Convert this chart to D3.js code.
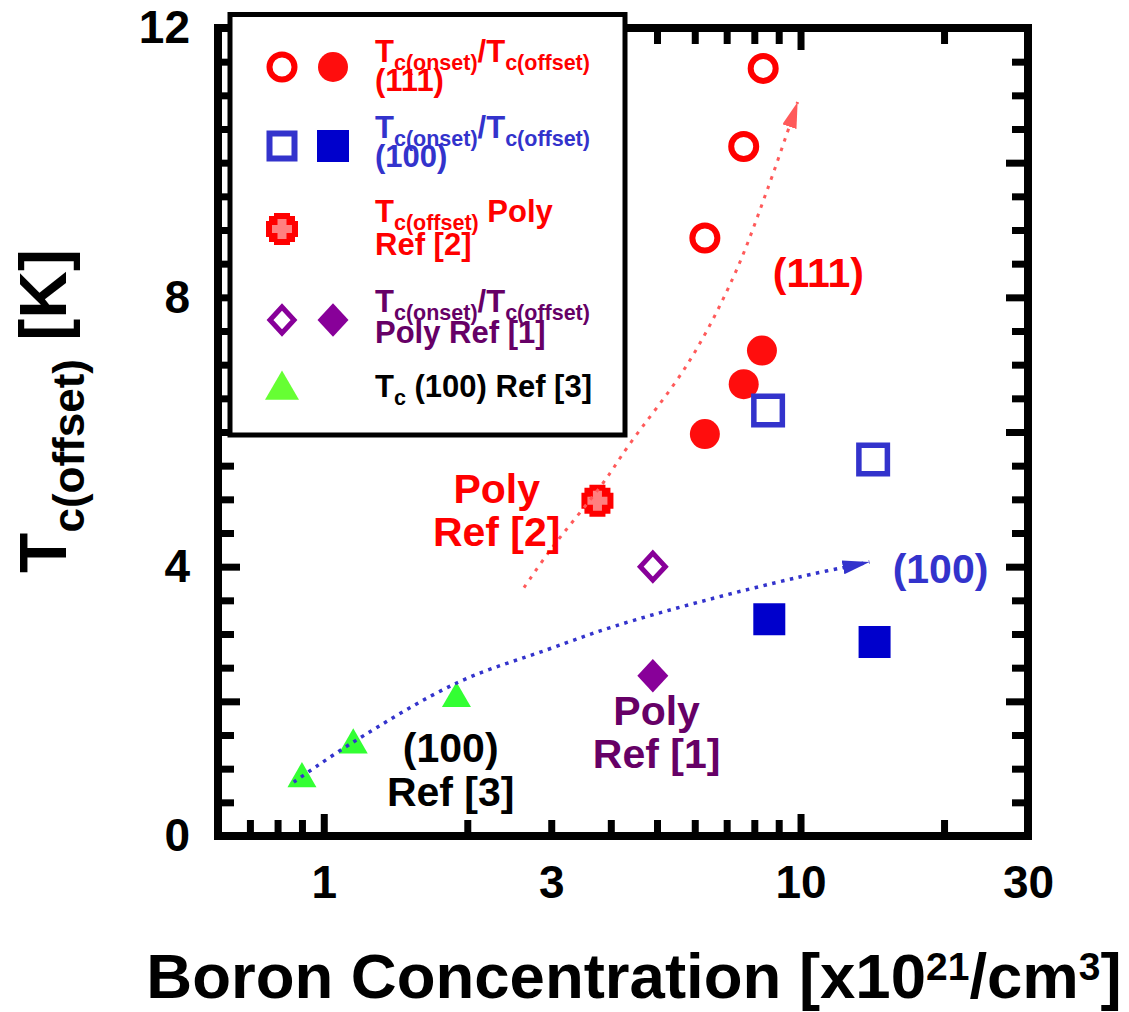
<!DOCTYPE html>
<html><head><meta charset="utf-8">
<script src="https://cdn.jsdelivr.net/npm/d3@7"></script>
<style>
body{margin:0;background:#fff}
svg{display:block}
text{font-family:"Liberation Sans",Arial,sans-serif;font-weight:bold}
</style>
</head><body>
<svg id="chart" width="1129" height="1012"></svg>
<script>
// ---------------- data ----------------
const onset111X = [6.3, 7.6, 8.35];
const onset111Y = [8.88, 10.24, 11.40];
const offset111X = [6.3, 7.6, 8.3];
const offset111Y = [5.97, 6.71, 7.21];
const onset100X = [8.55, 14.2];
const onset100Y = [6.32, 5.59];
const offset100X = [8.6, 14.3];
const offset100Y = [3.22, 2.88];
const polyRef2X = [3.75];
const polyRef2Y = [4.98];
const polyRef1OnsetX = [4.9];
const polyRef1OnsetY = [4.0];
const polyRef1OffsetX = [4.9];
const polyRef1OffsetY = [2.38];
const ref3X = [0.9, 1.153, 1.898];
const ref3Y = [0.85, 1.35, 2.04];
// hand-drawn trend arrows
const trend111X = [2.63, 2.99, 3.86, 4.34, 5.82, 7.24, 8.53, 9.86];
const trend111Y = [3.69, 4.25, 5.25, 5.78, 7.03, 8.31, 9.61, 10.9];
const trend100X = [0.865, 1.156, 1.91, 2.95, 4.05, 6.17, 10, 13.95];
const trend100Y = [0.80, 1.40, 2.28, 2.77, 3.11, 3.48, 3.85, 4.07];
// ticks
const xTickLabels = [1, 3, 10, 30];
const xMajorTicks = [1, 10];
const xMinorTicks = [0.7, 0.8, 0.9, 2, 3, 4, 5, 6, 7, 8, 9, 20];
const yTickLabels = [0, 4, 8, 12];
const yMajorTicks = [2, 4, 6, 8, 10];
const yMinorTicks = [0.5, 1, 1.5, 2.5, 3, 3.5, 4.5, 5, 5.5, 6.5, 7, 7.5, 8.5, 9, 9.5, 10.5, 11, 11.5];
// annotations (data coordinates)
const annoText = ["(111)", "Poly", "Ref [2]", "(100)", "Poly", "Ref [1]", "(100)", "Ref [3]"];
const annoX = [10.9, 2.305, 2.305, 19.66, 4.99, 4.99, 1.846, 1.846];
const annoY = [8.15, 4.95, 4.30, 3.76, 1.65, 1.01, 1.10, 0.45];
const annoColor = ["#ff0000", "#ff0000", "#ff0000", "#3333cc", "#660066", "#660066", "#000000", "#000000"];

// ---------------- layout ----------------
const svg = d3.select("#chart");
const L = 218, R = 1028, T = 28, B = 836;
const x = d3.scaleLog().domain([0.6, 30]).range([L, R]);
const y = d3.scaleLinear().domain([0, 12]).range([B, T]);

const zip = (xs, ys) => xs.map((v, i) => [v, ys[i]]);

// ---------------- axes ----------------
function tickAxis(axisFn, scale, values, size, transform) {
  const g = svg.append("g").attr("transform", transform)
    .call(axisFn(scale).tickValues(values).tickSize(-size).tickFormat(""));
  g.select(".domain").remove();
  g.selectAll(".tick line").attr("stroke", "#000").attr("stroke-width", 7);
}
tickAxis(d3.axisBottom, x, xMajorTicks, 22, `translate(0,${B})`);
tickAxis(d3.axisBottom, x, xMinorTicks, 16, `translate(0,${B})`);
tickAxis(d3.axisTop, x, xMajorTicks, 22, `translate(0,${T})`);
tickAxis(d3.axisTop, x, xMinorTicks, 16, `translate(0,${T})`);
tickAxis(d3.axisLeft, y, yMajorTicks, 22, `translate(${L},0)`);
tickAxis(d3.axisLeft, y, yMinorTicks, 16, `translate(${L},0)`);
tickAxis(d3.axisRight, y, yMajorTicks, 22, `translate(${R},0)`);
tickAxis(d3.axisRight, y, yMinorTicks, 16, `translate(${R},0)`);

svg.append("rect").attr("x", L).attr("y", T).attr("width", R - L).attr("height", B - T)
  .attr("fill", "none").attr("stroke", "#000").attr("stroke-width", 8);

const xl = svg.append("g").attr("transform", `translate(0,${B})`)
  .call(d3.axisBottom(x).tickValues(xTickLabels).tickSize(0).tickPadding(29).tickFormat(d3.format("d")));
xl.select(".domain").remove();
xl.selectAll("text").attr("font-size", 46).attr("fill", "#000")
  .style("font-family", '"Liberation Sans",Arial,sans-serif').style("font-weight", "bold");

const yl = svg.append("g").attr("transform", `translate(${L},0)`)
  .call(d3.axisLeft(y).tickValues(yTickLabels).tickSize(0).tickPadding(28).tickFormat(d3.format("d")));
yl.select(".domain").remove();
yl.selectAll("text").attr("font-size", 46).attr("fill", "#000")
  .style("font-family", '"Liberation Sans",Arial,sans-serif').style("font-weight", "bold");

// axis titles
const xt = svg.append("text").attr("x", 634).attr("y", 998).attr("text-anchor", "middle")
  .attr("font-size", 63.5).attr("fill", "#000");
xt.append("tspan").text("Boron Concentration [x10");
xt.append("tspan").attr("font-size", 39).attr("dy", -18).text("21");
xt.append("tspan").attr("dy", 18).text("/cm");
xt.append("tspan").attr("font-size", 39).attr("dy", -18).text("3");
xt.append("tspan").attr("dy", 18).text("]");

const yt = svg.append("text").attr("transform", "translate(66,411) rotate(-90)")
  .attr("text-anchor", "middle").attr("font-size", 66).attr("fill", "#000");
yt.append("tspan").text("T");
yt.append("tspan").attr("font-size", 44).attr("dy", 18).text("c(offset)");
yt.append("tspan").attr("dy", -18).text(" [K]");

// ---------------- symbols ----------------
const diamondType = {
  draw(ctx, size) {
    const s = Math.sqrt(size), a = s * 0.5, b = s * 0.54;
    ctx.moveTo(0, -b); ctx.lineTo(a, 0); ctx.lineTo(0, b); ctx.lineTo(-a, 0); ctx.closePath();
  }
};
const crossOuter = [[-8,-16],[8,-16],[8,-13],[13,-13],[13,-8],[16,-8],[16,8],[13,8],[13,13],[8,13],[8,16],[-8,16],[-8,13],[-13,13],[-13,8],[-16,8],[-16,-8],[-13,-8],[-13,-13],[-8,-13]];
const crossInner = [[-4.5,-10],[4.5,-10],[4.5,-4],[10,-4],[10,4],[4.5,4],[4.5,10],[-4.5,10],[-4.5,4],[-10,4],[-10,-4],[-4.5,-4]];
const polyType = pts => ({
  draw(ctx, size) {
    const k = Math.sqrt(size) / 32;
    pts.forEach((p, i) => i ? ctx.lineTo(p[0] * k, p[1] * k) : ctx.moveTo(p[0] * k, p[1] * k));
    ctx.closePath();
  }
});

const STY = {
  openCircle: {type: d3.symbolCircle, size: Math.PI * 12.5 * 12.5, fill: "#fff", stroke: "#ff0000", sw: 6},
  fillCircle: {type: d3.symbolCircle, size: Math.PI * 15 * 15, fill: "#ff0d0d", stroke: "none", sw: 0},
  openSquare: {type: d3.symbolSquare, size: 28.5 * 28.5, fill: "#fff", stroke: "#3333cc", sw: 5.5},
  fillSquare: {type: d3.symbolSquare, size: 32 * 32, fill: "#0000cc", stroke: "none", sw: 0},
  openDiamond: {type: diamondType, size: 25 * 25, fill: "#fff", stroke: "#880099", sw: 5},
  fillDiamond: {type: diamondType, size: 31 * 31, fill: "#880099", stroke: "none", sw: 0},
  crossOut: {type: polyType(crossOuter), size: 32 * 32, fill: "#ff0000", stroke: "none", sw: 0},
  crossIn: {type: polyType(crossInner), size: 32 * 32, fill: "#ff8080", stroke: "none", sw: 0},
  triangle: {type: d3.symbolTriangle, size: 364, fill: "#33ff33", stroke: "none", sw: 0},
  triangleLeg: {type: d3.symbolTriangle, size: 500, fill: "#66ff33", stroke: "none", sw: 0}
};
function drawPx(g, pts, st) {
  g.selectAll(null).data(pts).join("path")
    .attr("transform", d => `translate(${d[0]},${d[1]})`)
    .attr("d", d3.symbol().type(st.type).size(st.size)())
    .attr("fill", st.fill).attr("stroke", st.stroke).attr("stroke-width", st.sw);
}
function drawData(xs, ys, st) {
  drawPx(svg.append("g"), zip(xs, ys).map(d => [x(d[0]), y(d[1])]), st);
}

// ---------------- trend arrows ----------------
const defs = svg.append("defs");
function arrowMarker(id, color, len, wid) {
  defs.append("marker").attr("id", id).attr("viewBox", `0 0 ${len} ${wid}`)
    .attr("refX", len).attr("refY", wid / 2).attr("markerWidth", len).attr("markerHeight", wid)
    .attr("markerUnits", "userSpaceOnUse").attr("orient", "auto")
    .append("path").attr("d", `M0,0 L${len},${wid / 2} L0,${wid} Z`).attr("fill", color);
}
arrowMarker("arR", "#ff5a5a", 26, 15);
arrowMarker("arB", "#3333cc", 27, 14);
const line = d3.line().x(d => x(d[0])).y(d => y(d[1])).curve(d3.curveCatmullRom);

// ---------------- data marks ----------------
drawData(ref3X, ref3Y, STY.triangle);
drawData(polyRef2X, polyRef2Y, STY.crossOut);
drawData(polyRef2X, polyRef2Y, STY.crossIn);

svg.append("path").attr("d", line(zip(trend111X, trend111Y))).attr("fill", "none")
  .attr("stroke", "#ff5a5a").attr("stroke-width", 3).attr("stroke-dasharray", "3.5,6.5")
  .attr("marker-end", "url(#arR)");
svg.append("path").attr("d", line(zip(trend100X, trend100Y))).attr("fill", "none")
  .attr("stroke", "#3333cc").attr("stroke-width", 3.5).attr("stroke-dasharray", "3.5,5.5")
  .attr("marker-end", "url(#arB)");

drawData(onset111X, onset111Y, STY.openCircle);
drawData(offset111X, offset111Y, STY.fillCircle);
drawData(onset100X, onset100Y, STY.openSquare);
drawData(offset100X, offset100Y, STY.fillSquare);
drawData(polyRef1OnsetX, polyRef1OnsetY, STY.openDiamond);
drawData(polyRef1OffsetX, polyRef1OffsetY, STY.fillDiamond);

// annotations
svg.append("g").selectAll("text").data(annoText).join("text")
  .attr("x", (d, i) => x(annoX[i])).attr("y", (d, i) => y(annoY[i]))
  .attr("text-anchor", "middle").attr("font-size", 41)
  .attr("fill", (d, i) => annoColor[i]).text(d => d);

// ---------------- legend ----------------
const lg = svg.append("g");
lg.append("rect").attr("x", 230).attr("y", 14.5).attr("width", 395).attr("height", 420.5)
  .attr("fill", "#fff").attr("stroke", "#000").attr("stroke-width", 5);
const mx1 = 282, mx2 = 333, tx = 375;
drawPx(lg, [[mx1, 67]], STY.openCircle);
drawPx(lg, [[mx2, 67]], STY.fillCircle);
drawPx(lg, [[mx1, 146]], {...STY.openSquare, size: 25 * 25, sw: 6});
drawPx(lg, [[mx2, 146]], STY.fillSquare);
drawPx(lg, [[mx1, 229]], STY.crossOut);
drawPx(lg, [[mx1, 229]], STY.crossIn);
drawPx(lg, [[mx1, 320]], {...STY.openDiamond, size: 24 * 24});
drawPx(lg, [[mx2, 320]], STY.fillDiamond);
drawPx(lg, [[mx1, 390]], STY.triangleLeg);

function legText(yb, color, parts) {
  const t = lg.append("text").attr("x", tx).attr("y", yb).attr("fill", color).attr("font-size", 31);
  let sub = false;
  parts.forEach(p => {
    const isSub = p.sub === true;
    const ts = t.append("tspan").text(p.t);
    if (isSub !== sub) ts.attr("dy", isSub ? 8 : -8);
    if (isSub) ts.attr("font-size", 21.5);
    sub = isSub;
  });
  return t;
}
legText(62, "#ff0000", [{t: "T"}, {t: "c(onset)", sub: true}, {t: "/T"}, {t: "c(offset)", sub: true}]);
legText(91, "#ff0000", [{t: "(111)"}]);
legText(138, "#3333cc", [{t: "T"}, {t: "c(onset)", sub: true}, {t: "/T"}, {t: "c(offset)", sub: true}]);
legText(167, "#3333cc", [{t: "(100)"}]);
legText(222, "#ff0000", [{t: "T"}, {t: "c(offset)", sub: true}, {t: " Poly"}]);
legText(255, "#ff0000", [{t: "Ref [2]"}]);
legText(312, "#660066", [{t: "T"}, {t: "c(onset)", sub: true}, {t: "/T"}, {t: "c(offset)", sub: true}]);
legText(343, "#660066", [{t: "Poly Ref [1]"}]);
legText(397, "#000000", [{t: "T"}, {t: "c", sub: true}, {t: " (100) Ref [3]"}]);
</script>
</body></html>
